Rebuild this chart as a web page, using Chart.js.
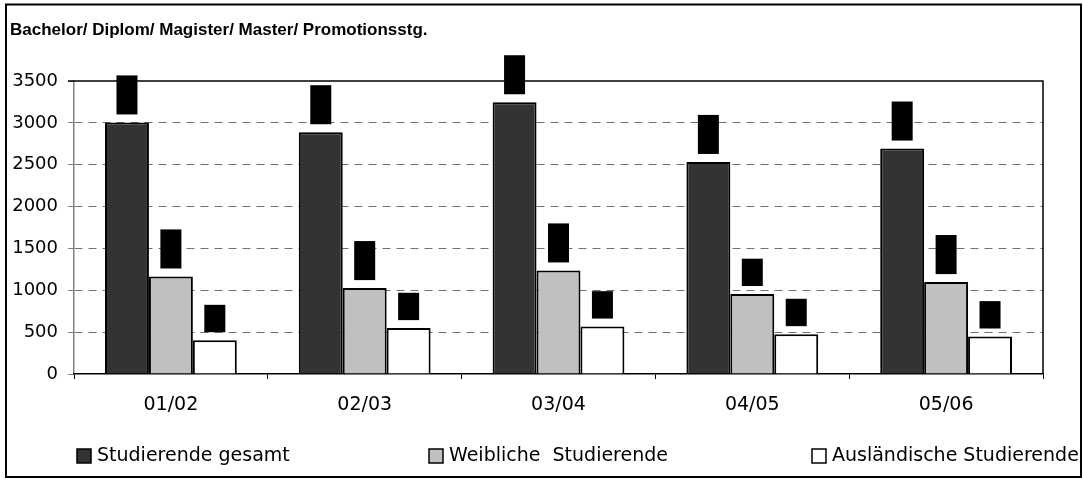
<!DOCTYPE html>
<html>
<head>
<meta charset="utf-8">
<script src="https://cdn.jsdelivr.net/npm/chart.js@4.4.1/dist/chart.umd.min.js"></script>
<style>
  html, body { margin: 0; padding: 0; background: #fff; }
  #wrap { width: 1083px; height: 482px; position: relative; }
</style>
</head>
<body>
<div id="wrap"><canvas id="studChart"></canvas></div>
<script>
// --- data ---
const categories = ['01/02', '02/03', '03/04', '04/05', '05/06'];
const gesamt = [3005, 2888, 3246, 2533, 2693];
const weiblich = [1165, 1026, 1237, 955, 1098];
const auslaendisch = [404, 548, 567, 476, 448];
const seriesNames = ['Studierende gesamt', 'Weibliche  Studierende', 'Ausländische Studierende'];
const yTicks = [0, 500, 1000, 1500, 2000, 2500, 3000, 3500];
const chartTitle = 'Bachelor/ Diplom/ Magister/ Master/ Promotionsstg.';

const FONT = "'DejaVu Sans', sans-serif";
const TITLE_FONT = "'Liberation Sans', Arial, sans-serif";

// --- frame, title, plot border, value boxes, legend ---
const decorations = {
    id: 'decorations',
    afterDatasetsDraw(chart) {
        const ctx = chart.ctx;
        ctx.save();
        // value labels (blacked out in the original)
        ctx.font = '14px ' + TITLE_FONT;
        chart.data.datasets.forEach((ds, di) => {
            chart.getDatasetMeta(di).data.forEach((bar, i) => {
                const txt = ds.data[i].toLocaleString('de-DE');
                const h = ctx.measureText(txt).width + 4;
                const w = 21;
                const x = bar.x - w / 2;
                const y = bar.y - 8 - h;
                ctx.fillStyle = '#000';
                ctx.fillRect(x, y, w, h);
                ctx.save();
                ctx.translate(bar.x, y + h - 2);
                ctx.rotate(-Math.PI / 2);
                ctx.textBaseline = 'middle';
                ctx.fillText(txt, 0, 0);
                ctx.restore();
            });
        });
        ctx.restore();
    },
    afterDraw(chart) {
        const ctx = chart.ctx;
        const a = chart.chartArea;
        ctx.save();
        // plot border top / right
        ctx.strokeStyle = '#000';
        ctx.lineWidth = 1.5;
        ctx.beginPath();
        ctx.moveTo(a.left - 6, a.top);
        ctx.lineTo(a.right, a.top);
        ctx.lineTo(a.right, a.bottom);
        ctx.stroke();

        // title
        ctx.fillStyle = '#000';
        ctx.font = 'bold 17px ' + TITLE_FONT;
        ctx.textBaseline = 'middle';
        ctx.textAlign = 'left';
        ctx.fillText(chartTitle, 10, 30);

        // legend
        const legendX = [77, 429, 812];
        const ly = 456;
        ctx.font = '19px ' + FONT;
        chart.data.datasets.forEach((ds, i) => {
            const x = legendX[i];
            ctx.fillStyle = ds.backgroundColor;
            ctx.fillRect(x, ly - 7, 14, 14);
            ctx.lineWidth = 1.5;
            ctx.strokeStyle = '#000';
            ctx.strokeRect(x, ly - 7, 14, 14);
            ctx.fillStyle = '#000';
            ctx.fillText(ds.label, x + 20, ly);
        });

        // outer frame
        ctx.lineWidth = 2;
        ctx.strokeRect(6, 4.5, 1075, 472.5);
        ctx.restore();
    }
};

const ctx = document.getElementById('studChart');

new Chart(ctx, {
    type: 'bar',
    data: {
        labels: categories,
        datasets: [
            { label: seriesNames[0], data: gesamt, backgroundColor: '#333333' },
            { label: seriesNames[1], data: weiblich, backgroundColor: '#c0c0c0' },
            { label: seriesNames[2], data: auslaendisch, backgroundColor: '#ffffff' }
        ]
    },
    options: {
        responsive: true,
        maintainAspectRatio: false,
        animation: false,
        layout: { padding: { left: 0, top: 81, right: 40, bottom: 0 } },
        datasets: {
            bar: {
                borderColor: '#000',
                borderWidth: 2,
                categoryPercentage: 0.68,
                barPercentage: 1
            }
        },
        plugins: {
            legend: { display: false },
            tooltip: { enabled: false }
        },
        scales: {
            y: {
                min: 0,
                max: 3500,
                afterFit: s => { s.width = 74; },
                afterBuildTicks: s => { s.ticks = yTicks.map(v => ({ value: v })); },
                ticks: {
                    color: '#000',
                    font: { family: FONT, size: 18 },
                    padding: 10,
                    callback: v => String(v)
                },
                grid: {
                    color: c => (c.tick && (c.tick.value === 3500 || c.tick.value === 0)) ? 'rgba(0,0,0,0)' : '#707070',
                    tickColor: '#808080',
                    tickLength: 6,
                    lineWidth: 1
                },
                border: { color: '#808080', width: 1.5, dash: [8, 6] }
            },
            x: {
                afterFit: s => { s.height = 108; },
                ticks: {
                    color: '#000',
                    font: { family: FONT, size: 19 },
                    padding: 15
                },
                grid: {
                    drawOnChartArea: false,
                    tickColor: '#000',
                    tickLength: 5
                },
                border: { color: '#000', width: 1.5 }
            }
        }
    },
    plugins: [decorations]
});
</script>
</body>
</html>
